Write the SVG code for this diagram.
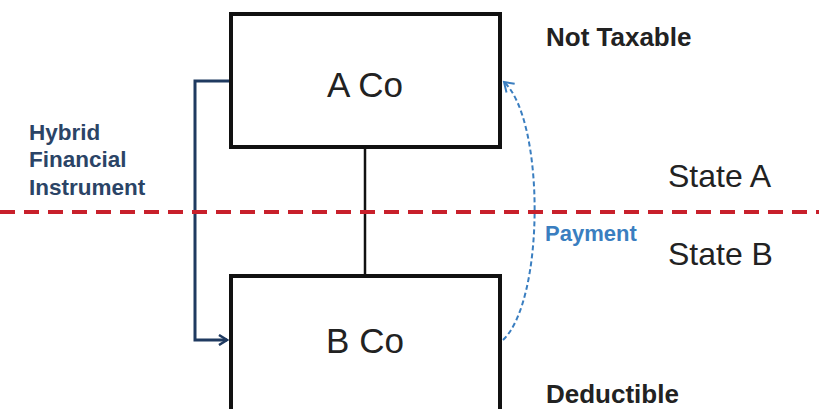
<svg xmlns="http://www.w3.org/2000/svg" width="819" height="409" viewBox="0 0 819 409">
<style>
.box{fill:#fff;stroke:#111;stroke-width:4}
.lbl{font-family:"Liberation Sans",Arial,sans-serif;fill:#222}
.b{font-weight:bold}
</style>
<defs>
<marker id="ah1" markerWidth="12" markerHeight="12" refX="10" refY="6" orient="auto" markerUnits="userSpaceOnUse">
<path d="M2,1 L10,6 L2,11" fill="none" stroke="#1F3A60" stroke-width="2.5"/>
</marker>
<marker id="ah2" markerWidth="14" markerHeight="14" refX="11" refY="7" orient="auto" markerUnits="userSpaceOnUse">
<path d="M2,1 L11,7 L2,13" fill="none" stroke="#3A7EC0" stroke-width="2"/>
</marker>
</defs>
<rect width="819" height="409" fill="#fff"/>
<g id="connectors">
<line x1="365" y1="148" x2="365" y2="275" stroke="#111" stroke-width="2.5"/>
<polyline points="229,81 195,81 195,340 227,340" fill="none" stroke="#1F3A60" stroke-width="3" marker-end="url(#ah1)"/>
<path d="M503,340 C545,300 545,120 504,82" fill="none" stroke="#3A7EC0" stroke-width="2" stroke-dasharray="5,3" marker-end="url(#ah2)"/>
</g>
<line id="border" x1="0" y1="212" x2="819" y2="212" stroke="#C8202B" stroke-width="4" stroke-dasharray="15,9"/>
<g id="acoNode">
<rect class="box" x="231" y="14" width="269" height="133"/>
<text class="lbl" x="365" y="97" font-size="35" text-anchor="middle">A Co</text>
</g>
<g id="bcoNode">
<rect class="box" x="231" y="276" width="269" height="140"/>
<text class="lbl" x="365" y="353" font-size="35" text-anchor="middle">B Co</text>
</g>
<g id="labels">
<text class="lbl b" x="546" y="46" font-size="26" fill="#111">Not Taxable</text>
<text class="lbl b" x="546" y="403" font-size="26">Deductible</text>
<text class="lbl" x="668" y="187" font-size="32">State A</text>
<text class="lbl" x="668" y="265" font-size="32">State B</text>
<text class="lbl b" x="545" y="241" font-size="22" style="fill:#3A7EC0">Payment</text>
<g class="lbl b" font-size="22.5" style="fill:#2B4466">
<text x="29" y="140">Hybrid</text>
<text x="29" y="167">Financial</text>
<text x="29" y="195">Instrument</text>
</g>
</g>
</svg>
